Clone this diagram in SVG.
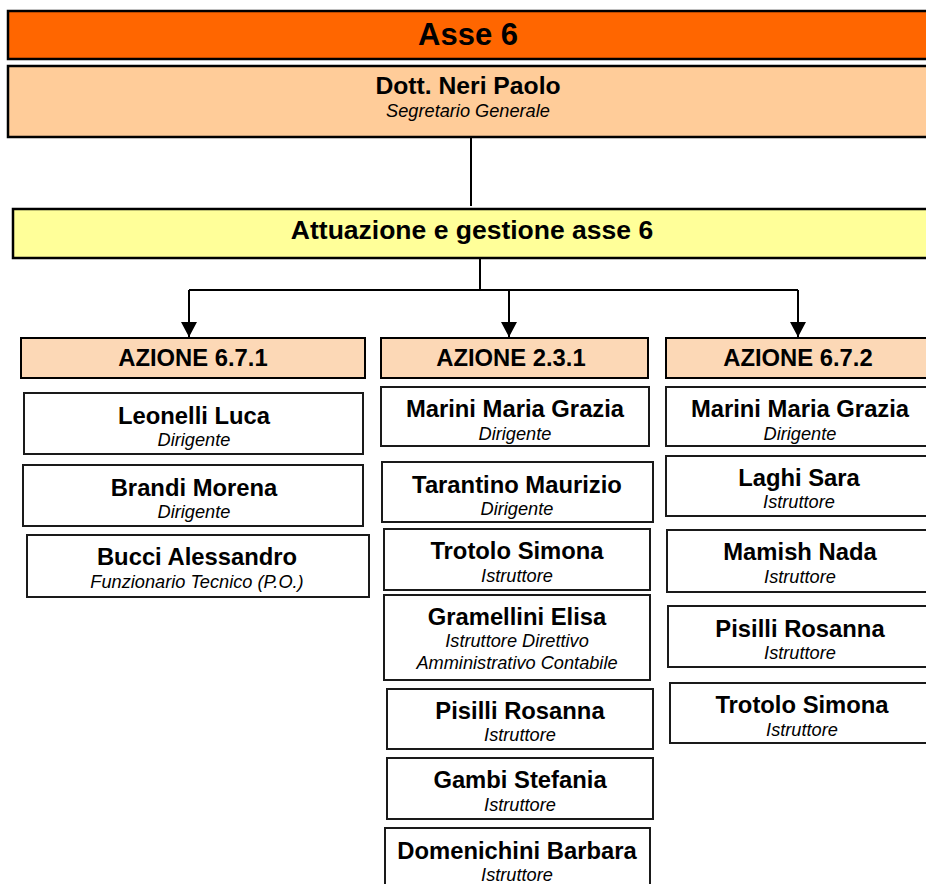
<svg xmlns="http://www.w3.org/2000/svg" width="926" height="884" viewBox="0 0 926 884">
  <defs>
    <style>
      .hdr { stroke: #000; stroke-width: 2.5; }
      .box { fill: #fff; stroke: #1a1a1a; stroke-width: 2; }
      .az { fill: #FCD8B6; stroke: #000; stroke-width: 2; }
      text { font-family: "Liberation Sans", Arial, sans-serif; text-anchor: middle; fill: #000; }
      .t1 { font-size: 31px; font-weight: bold; }
      .t2 { font-size: 24.7px; font-weight: bold; }
      .t3 { font-size: 26.5px; font-weight: bold; }
      .name { font-size: 23.8px; font-weight: bold; }
      .role { font-size: 18.2px; font-style: italic; }
      .ln { stroke: #000; stroke-width: 2; fill: none; }
    </style>
    <marker id="arr" viewBox="0 0 15 16" refX="15" refY="8" markerWidth="15" markerHeight="16" markerUnits="userSpaceOnUse" orient="auto">
      <path d="M0,0 L15,8 L0,16 Z" fill="#000"/>
    </marker>
  </defs>

  <rect width="926" height="884" fill="#fff"/>

  <!-- connectors -->
  <g id="connectors">
    <line class="ln" x1="471" y1="137" x2="471" y2="206" stroke-width="1.5"/>
    <line class="ln" x1="480" y1="258" x2="480" y2="290"/>
    <line class="ln" x1="189" y1="290" x2="798" y2="290"/>
    <line class="ln" x1="189" y1="290" x2="189" y2="337" marker-end="url(#arr)"/>
    <line class="ln" x1="509" y1="290" x2="509" y2="337" marker-end="url(#arr)"/>
    <line class="ln" x1="798" y1="290" x2="798" y2="337" marker-end="url(#arr)"/>
  </g>

  <!-- header -->
  <g id="asse6">
    <rect class="hdr" x="8" y="11" width="930" height="48" fill="#FF6600"/>
    <text class="t1" x="468" y="45">Asse 6</text>
  </g>
  <g id="segretario">
    <rect class="hdr" x="8" y="66" width="930" height="71" fill="#FFCC99"/>
    <text class="t2" x="468" y="94">Dott. Neri Paolo</text>
    <text class="role" x="468" y="117">Segretario Generale</text>
  </g>
  <g id="attuazione">
    <rect class="hdr" x="13" y="209" width="930" height="49" fill="#FFFF99"/>
    <text class="t3" x="472" y="239">Attuazione e gestione asse 6</text>
  </g>

  <!-- azioni -->
  <g id="azione-671">
    <rect class="az" x="21" y="338" width="344" height="40"/>
    <text class="name" x="193" y="366">AZIONE 6.7.1</text>
  </g>
  <g id="azione-231">
    <rect class="az" x="381" y="338" width="267" height="40"/>
    <text class="name" x="511" y="366">AZIONE 2.3.1</text>
  </g>
  <g id="azione-672">
    <rect class="az" x="666" y="338" width="270" height="40"/>
    <text class="name" x="798" y="366">AZIONE 6.7.2</text>
  </g>

  <!-- column 6.7.1 -->
  <g id="leonelli">
    <rect class="box" x="24" y="393" width="339" height="61"/>
    <text class="name" x="194" y="424">Leonelli Luca</text>
    <text class="role" x="194" y="446">Dirigente</text>
  </g>
  <g id="brandi">
    <rect class="box" x="23" y="465" width="340" height="61"/>
    <text class="name" x="194" y="496">Brandi Morena</text>
    <text class="role" x="194" y="518">Dirigente</text>
  </g>
  <g id="bucci">
    <rect class="box" x="27" y="535" width="342" height="62"/>
    <text class="name" x="197" y="565">Bucci Alessandro</text>
    <text class="role" x="197" y="588">Funzionario Tecnico (P.O.)</text>
  </g>

  <!-- column 2.3.1 -->
  <g id="marini-231">
    <rect class="box" x="381" y="387" width="268" height="59"/>
    <text class="name" x="515" y="417">Marini Maria Grazia</text>
    <text class="role" x="515" y="440">Dirigente</text>
  </g>
  <g id="tarantino">
    <rect class="box" x="382" y="462" width="271" height="60"/>
    <text class="name" x="517" y="493">Tarantino Maurizio</text>
    <text class="role" x="517" y="515">Dirigente</text>
  </g>
  <g id="trotolo-231">
    <rect class="box" x="384" y="529" width="266" height="61"/>
    <text class="name" x="517" y="559">Trotolo Simona</text>
    <text class="role" x="517" y="582">Istruttore</text>
  </g>
  <g id="gramellini">
    <rect class="box" x="384" y="595" width="266" height="85"/>
    <text class="name" x="517" y="625">Gramellini Elisa</text>
    <text class="role" x="517" y="647">Istruttore Direttivo</text>
    <text class="role" x="517" y="669">Amministrativo Contabile</text>
  </g>
  <g id="pisilli-231">
    <rect class="box" x="387" y="689" width="266" height="60"/>
    <text class="name" x="520" y="719">Pisilli Rosanna</text>
    <text class="role" x="520" y="741">Istruttore</text>
  </g>
  <g id="gambi">
    <rect class="box" x="387" y="758" width="266" height="61"/>
    <text class="name" x="520" y="788">Gambi Stefania</text>
    <text class="role" x="520" y="811">Istruttore</text>
  </g>
  <g id="domenichini">
    <rect class="box" x="385" y="828" width="265" height="70"/>
    <text class="name" x="517" y="859">Domenichini Barbara</text>
    <text class="role" x="517" y="881">Istruttore</text>
  </g>

  <!-- column 6.7.2 -->
  <g id="marini-672">
    <rect class="box" x="666" y="387" width="270" height="59"/>
    <text class="name" x="800" y="417">Marini Maria Grazia</text>
    <text class="role" x="800" y="440">Dirigente</text>
  </g>
  <g id="laghi">
    <rect class="box" x="666" y="456" width="270" height="60"/>
    <text class="name" x="799" y="486">Laghi Sara</text>
    <text class="role" x="799" y="508">Istruttore</text>
  </g>
  <g id="mamish">
    <rect class="box" x="667" y="530" width="270" height="62"/>
    <text class="name" x="800" y="560">Mamish Nada</text>
    <text class="role" x="800" y="583">Istruttore</text>
  </g>
  <g id="pisilli-672">
    <rect class="box" x="668" y="606" width="270" height="61"/>
    <text class="name" x="800" y="637">Pisilli Rosanna</text>
    <text class="role" x="800" y="659">Istruttore</text>
  </g>
  <g id="trotolo-672">
    <rect class="box" x="670" y="683" width="270" height="60"/>
    <text class="name" x="802" y="713">Trotolo Simona</text>
    <text class="role" x="802" y="736">Istruttore</text>
  </g>
</svg>
